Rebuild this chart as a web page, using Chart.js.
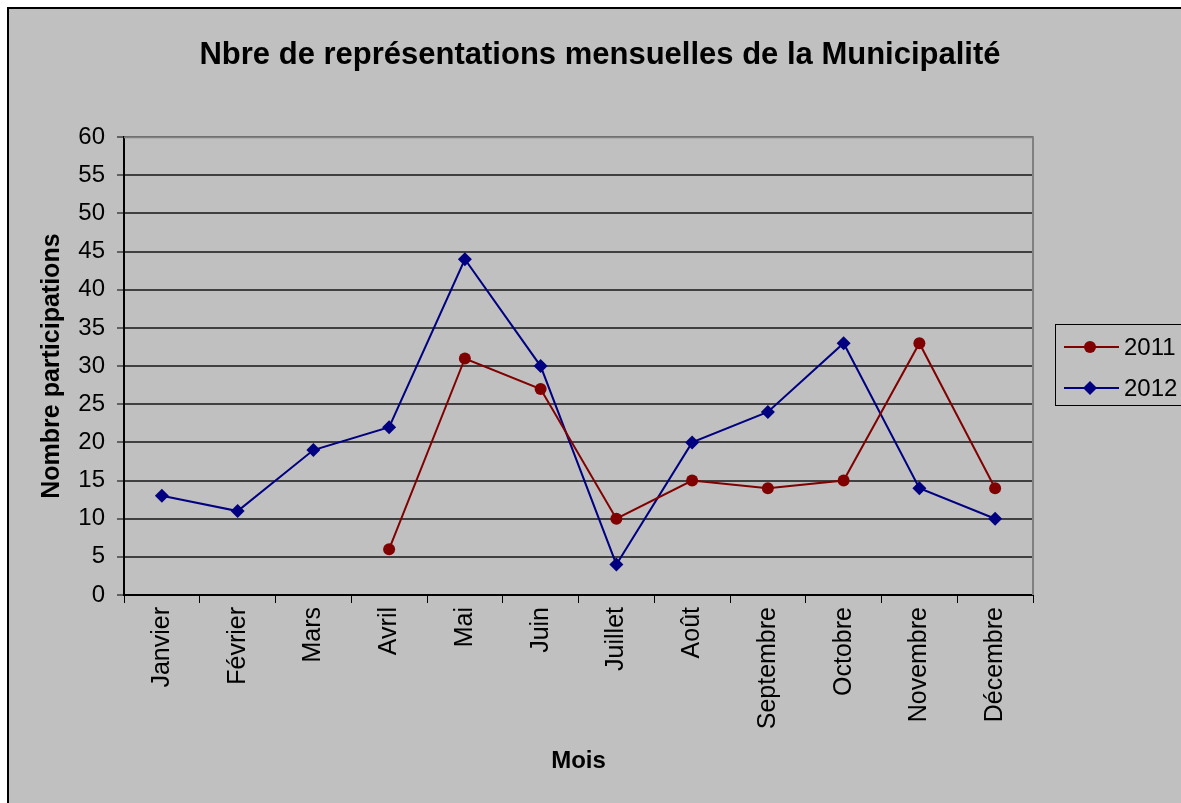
<!DOCTYPE html>
<html lang="fr">
<head>
    <meta charset="UTF-8">
    <title>Nbre de représentations mensuelles de la Municipalité</title>
    <script src="https://cdn.jsdelivr.net/npm/chart.js"></script>
    <style>
        body { margin: 0; background: #fff; }
        canvas { display: block; }
    </style>
</head>
<body>
    <canvas id="myChart" width="1181" height="803"></canvas>

    <script>
        const months = ['Janvier', 'Février', 'Mars', 'Avril', 'Mai', 'Juin', 'Juillet', 'Août', 'Septembre', 'Octobre', 'Novembre', 'Décembre'];
        const values2011 = [null, null, null, 6, 31, 27, 10, 15, 14, 15, 33, 14];
        const values2012 = [13, 11, 19, 22, 44, 30, 4, 20, 24, 33, 14, 10];
        const seriesNames = ['2011', '2012'];

        const FONT = "'Liberation Sans', Arial, sans-serif";

        // gray background + outer frame + plot border + legend (Excel look)
        const excelLook = {
            id: 'excelLook',
            beforeDraw(chart) {
                const ctx = chart.ctx;
                ctx.save();
                ctx.fillStyle = '#C0C0C0';
                ctx.fillRect(0, 0, chart.width, chart.height);
                ctx.fillStyle = '#fff';
                ctx.fillRect(0, 0, chart.width, 7);
                ctx.fillRect(0, 0, 7, chart.height);
                ctx.strokeStyle = '#000';
                ctx.lineWidth = 2;
                ctx.strokeRect(8, 8, chart.width + 20, chart.height + 20);
                ctx.restore();
            },
            afterDatasetsDraw(chart) {
                const ctx = chart.ctx;
                const a = chart.chartArea;
                ctx.save();
                ctx.strokeStyle = '#808080';
                ctx.lineWidth = 2;
                ctx.beginPath();
                ctx.moveTo(a.left, a.top);
                ctx.lineTo(a.right, a.top);
                ctx.lineTo(a.right, a.bottom);
                ctx.stroke();

                // legend
                const bx = 1055.5, by = 324.5;
                ctx.strokeStyle = '#000';
                ctx.lineWidth = 1;
                ctx.strokeRect(bx, by, 140, 81);
                ctx.font = '24px ' + FONT;
                ctx.textBaseline = 'middle';
                chart.data.datasets.forEach((ds, i) => {
                    const y = 347 + i * 41;
                    ctx.strokeStyle = ds.borderColor;
                    ctx.lineWidth = 2;
                    ctx.beginPath();
                    ctx.moveTo(1064, y);
                    ctx.lineTo(1119, y);
                    ctx.stroke();
                    ctx.fillStyle = ds.backgroundColor;
                    ctx.beginPath();
                    if (ds.pointStyle === 'circle') {
                        ctx.arc(1090, y, 6, 0, Math.PI * 2);
                    } else {
                        ctx.moveTo(1090, y - 7);
                        ctx.lineTo(1097, y);
                        ctx.lineTo(1090, y + 7);
                        ctx.lineTo(1083, y);
                        ctx.closePath();
                    }
                    ctx.fill();
                    ctx.fillStyle = '#000';
                    ctx.fillText(ds.label, 1124, y + 1);
                });
                ctx.restore();
            }
        };

        const ctx = document.getElementById('myChart').getContext('2d');
        new Chart(ctx, {
            type: 'line',
            data: {
                labels: months,
                datasets: [{
                    label: seriesNames[0],
                    data: values2011,
                    borderColor: '#800000',
                    backgroundColor: '#800000',
                    borderWidth: 2,
                    pointStyle: 'circle',
                    pointRadius: 6,
                    pointBorderWidth: 0,
                    tension: 0
                }, {
                    label: seriesNames[1],
                    data: values2012,
                    borderColor: '#000080',
                    backgroundColor: '#000080',
                    borderWidth: 2,
                    pointStyle: 'rectRot',
                    pointRadius: 7,
                    pointBorderWidth: 0,
                    tension: 0
                }]
            },
            options: {
                responsive: false,
                animation: false,
                layout: { padding: { left: 19, right: 0, top: 0, bottom: 0 } },
                plugins: {
                    legend: { display: false },
                    tooltip: { enabled: false },
                    title: {
                        display: true,
                        text: 'Nbre de représentations mensuelles de la Municipalité',
                        color: '#000',
                        font: { family: FONT, size: 31, weight: 'bold' },
                        padding: { top: 37, bottom: 63 }
                    }
                },
                scales: {
                    x: {
                        offset: true,
                        grid: {
                            offset: true,
                            drawOnChartArea: false,
                            drawTicks: true,
                            tickLength: 8,
                            tickColor: '#000',
                            tickWidth: 1
                        },
                        border: { color: '#000', width: 2 },
                        ticks: {
                            color: '#000',
                            font: { family: FONT, size: 25 },
                            minRotation: 90,
                            maxRotation: 90,
                            padding: 4
                        },
                        title: {
                            display: true,
                            text: 'Mois',
                            color: '#000',
                            font: { family: FONT, size: 24, weight: 'bold' },
                            padding: { top: 0, bottom: 27 }
                        },
                        afterFit(scale) { scale.height = 803 - 595; }
                    },
                    y: {
                        min: 0,
                        max: 60,
                        ticks: {
                            stepSize: 5,
                            color: '#000',
                            font: { family: FONT, size: 24 },
                            padding: 12
                        },
                        grid: {
                            color: '#404040',
                            lineWidth: 2,
                            tickLength: 7,
                            tickColor: '#000',
                            tickWidth: 1
                        },
                        border: { color: '#000', width: 2 },
                        title: {
                            display: true,
                            text: 'Nombre participations',
                            color: '#000',
                            font: { family: FONT, size: 25, weight: 'bold' },
                            padding: { top: 18, bottom: 0 }
                        },
                        afterFit(scale) { scale.width = 124 - 19; }
                    },
                    yRight: {
                        position: 'right',
                        display: true,
                        grid: { display: false, drawTicks: false },
                        border: { display: false },
                        ticks: { display: false },
                        afterFit(scale) { scale.width = 1181 - 1033; }
                    }
                }
            },
            plugins: [excelLook]
        });
    </script>
</body>
</html>
